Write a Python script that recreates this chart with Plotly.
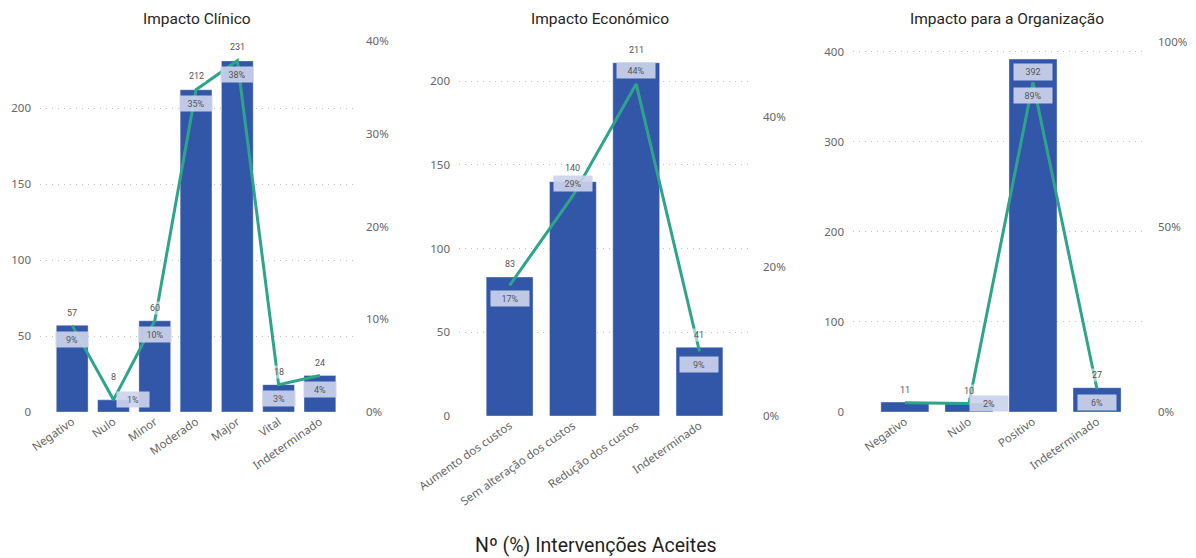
import plotly.graph_objects as go

W, H = 1196, 558

# ---------------- data ----------------
clin_cats = ["Negativo", "Nulo", "Minor", "Moderado", "Major", "Vital", "Indeterminado"]
clin_counts = [57, 8, 60, 212, 231, 18, 24]
clin_pct = [9.34, 1.31, 9.84, 34.75, 37.87, 2.95, 3.93]

eco_cats = ["Aumento dos custos", "Sem alteração dos custos", "Redução dos custos", "Indeterminado"]
eco_counts = [83, 140, 211, 41]
eco_pct = [17.47, 29.47, 44.42, 8.63]

org_cats = ["Negativo", "Nulo", "Positivo", "Indeterminado"]
org_counts = [11, 10, 392, 27]
org_pct = [2.50, 2.27, 89.09, 6.14]

titles = ["Impacto Clínico", "Impacto Económico", "Impacto para a Organização"]
main_title = "Nº (%) Intervenções Aceites"

# ---------------- style ----------------
BAR = "#3256A8"
LINE = "#2EA48B"
BOX = "rgba(203,210,235,0.92)"
GRID = "#C4C4C4"
TICK = "#666666"
LBL = "#555555"
TICK_FONT = "Noto Sans"
LBL_FONT = "Roboto"

panels = [
    dict(cats=clin_cats, counts=clin_counts, pct=clin_pct, title=titles[0],
         px=(40, 355), py=(41, 412), xr=(-0.78, 6.85), yl=244.1, yr=40.0,
         ldt=50, rdt=10, bw=0.77, tx=197, boxw=30,
         cshift=[12, 23, 13, 14, 14, 13, 12.5],
         pshift=[(0, -14), (20, 0), (0, -14), (0, -14), (0, -14), (0, -14), (0, -14)],
         pshow=[1, 1, 1, 1, 1, 1, 1], cbox=[0] * 7),
    dict(cats=eco_cats, counts=eco_counts, pct=eco_pct, title=titles[1],
         px=(459, 752), py=(40, 416), xr=(-0.8, 3.83), yl=224.6, yr=50.3,
         ldt=50, rdt=20, bw=0.74, tx=600, boxw=36,
         cshift=[13, 14, 13, 12],
         pshift=[(0, -13), (0, 12.5), (0, 13), (0, -13)],
         pshow=[1, 1, 1, 1], cbox=[0] * 4),
    dict(cats=org_cats, counts=org_counts, pct=org_pct, title=titles[2],
         px=(853, 1147), py=(42, 412), xr=(-0.81, 3.78), yl=411.0, yr=100.0,
         ldt=100, rdt=50, bw=0.75, tx=1007, boxw=36,
         cshift=[12, 12, -13, 13],
         pshift=[(0, -13), (20, 0), (0, -13), (0, -13.5)],
         pshow=[0, 1, 1, 1], cbox=[0, 0, 1, 0]),
]

fig = go.Figure()
annotations = []
layout = {}

for i, p in enumerate(panels):
    n = i + 1
    xid = "x" if n == 1 else f"x{n}"
    yl_id = "y" if n == 1 else f"y{2 * n - 1}"
    yr_id = f"y{2 * n}"
    xname = "xaxis" if n == 1 else f"xaxis{n}"
    ylname = "yaxis" if n == 1 else f"yaxis{2 * n - 1}"
    yrname = f"yaxis{2 * n}"

    xd = [p["px"][0] / W, p["px"][1] / W]
    yd = [1 - p["py"][1] / H, 1 - p["py"][0] / H]

    fig.add_trace(go.Bar(
        x=p["cats"], y=p["counts"], xaxis=xid, yaxis=yl_id,
        marker=dict(color=BAR, line=dict(color="rgba(255,255,255,0.35)", width=1)),
        width=p["bw"], showlegend=False, hoverinfo="skip"))
    fig.add_trace(go.Scatter(
        x=p["cats"], y=p["pct"], xaxis=xid, yaxis=yr_id, mode="lines",
        line=dict(color=LINE, width=3), showlegend=False, hoverinfo="skip"))

    layout[xname] = dict(
        domain=xd, anchor=yl_id, type="category", range=list(p["xr"]),
        showgrid=False, zeroline=False, showline=False, ticks="", automargin=False,
        tickangle=-35, tickfont=dict(family=TICK_FONT, size=11.5, color=TICK))
    layout[ylname] = dict(
        domain=yd, anchor=xid, range=[0, p["yl"]], dtick=p["ldt"], automargin=False,
        showgrid=True, gridcolor=GRID, griddash="1px,5px", gridwidth=1,
        zeroline=False, showline=False, ticks="", ticklabelstandoff=8,
        tickfont=dict(family=TICK_FONT, size=11.5, color=TICK))
    layout[yrname] = dict(
        overlaying=yl_id, side="right", anchor=xid, range=[0, p["yr"]],
        dtick=p["rdt"], ticksuffix="%", showgrid=False, zeroline=False,
        showline=False, ticks="", ticklabelstandoff=10, automargin=False,
        tickfont=dict(family=TICK_FONT, size=11.5, color=TICK))

    # count labels
    for c, v, s, b in zip(p["cats"], p["counts"], p["cshift"], p["cbox"]):
        annotations.append(dict(
            x=c, y=v, xref=xid, yref=yl_id, text=str(v), showarrow=False,
            yshift=s, font=dict(family=LBL_FONT, size=9, color=LBL),
            bgcolor=BOX if b else "rgba(255,255,255,0.55)",
            width=p["boxw"] if b else None, height=14 if b else None,
            borderpad=1))
    # percentage labels
    for c, v, (sx, sy), show in zip(p["cats"], p["pct"], p["pshift"], p["pshow"]):
        if not show:
            continue
        annotations.append(dict(
            x=c, y=v, xref=xid, yref=yr_id, text=f"{v:.0f}%", showarrow=False,
            xshift=sx, yshift=sy, font=dict(family=LBL_FONT, size=9, color=LBL),
            bgcolor=BOX, width=p["boxw"], height=13, borderpad=1))

    annotations.append(dict(
        x=p["tx"] / W, y=1 - 19 / H, xref="paper", yref="paper", text=p["title"],
        showarrow=False, xanchor="center", yanchor="middle",
        font=dict(family=LBL_FONT, size=15.5, color="#252423")))

annotations.append(dict(
    x=596 / W, y=1 - 545 / H, xref="paper", yref="paper", text=main_title,
    showarrow=False, xanchor="center", yanchor="middle",
    font=dict(family=LBL_FONT, size=19.5, color="#1f1f1f")))

fig.update_layout(
    width=W, height=H, margin=dict(l=0, r=0, t=0, b=0, autoexpand=False),
    paper_bgcolor="white", plot_bgcolor="white",
    annotations=annotations, bargap=0.2, **layout)

fig.write_html("out.html")
